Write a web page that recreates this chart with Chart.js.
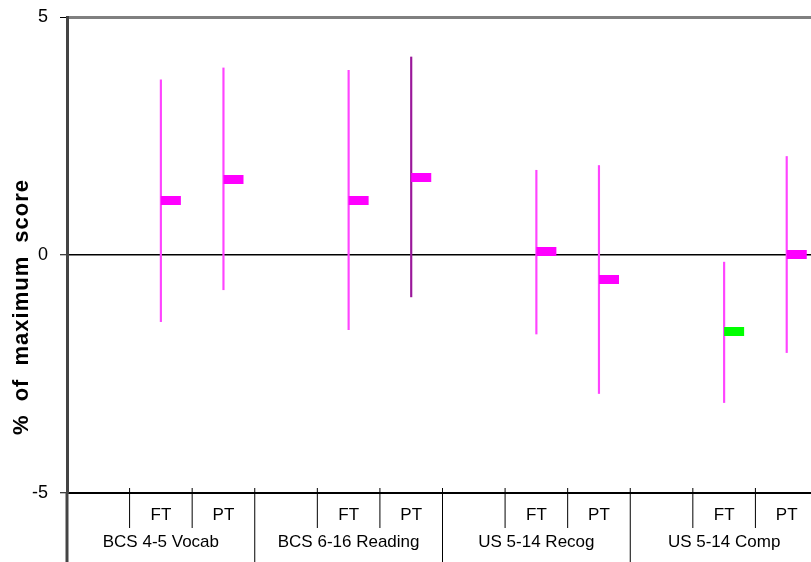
<!DOCTYPE html>
<html>
<head>
<meta charset="utf-8">
<script src="https://cdn.jsdelivr.net/npm/chart.js@4"></script>
<style>
    html, body { margin: 0; padding: 0; overflow: hidden; background: #fff; }
    #wrap { width: 830px; height: 562px; position: relative; }
</style>
</head>
<body>
<div id="wrap"><canvas id="chart"></canvas></div>
<script>
const categories = ['', 'FT', 'PT', '', 'FT', 'PT', '', 'FT', 'PT', '', 'FT', 'PT'];
const groups = ['BCS 4-5 Vocab', 'BCS 6-16 Reading', 'US 5-14 Recog', 'US 5-14 Comp'];
const means = [null, 1.14, 1.59, null, 1.15, 1.62, null, 0.07, -0.51, null, -1.61, 0.02];
const lows = [null, -1.40, -0.73, null, -1.57, -0.88, null, -1.66, -2.91, null, -3.10, -2.05];
const highs = [null, 3.68, 3.93, null, 3.88, 4.16, null, 1.78, 1.88, null, -0.15, 2.07];
const yTicks = [-5, 0, 5];

const ctx = document.querySelector('#chart').getContext('2d');
Chart.defaults.font.family = "'Liberation Sans', Arial, sans-serif";
Chart.defaults.color = '#000';

// marker image: rectangle starts at the point and runs to the right
function makeMarker(color) {
    const c = document.createElement('canvas');
    c.width = 42;
    c.height = 9;
    const g = c.getContext('2d');
    g.fillStyle = color;
    g.fillRect(21, 0, 20, 9);
    return c;
}
const magentaMarker = makeMarker('#ff00ff');
const greenMarker = makeMarker('#00ff00');

const ranges = lows.map((low, i) => low === null ? null : [low, highs[i]]);
const whiskerColors = categories.map((c, i) => i === 5 ? '#9a189a' : '#ff44ff');
const markerStyles = categories.map((c, i) => i === 10 ? greenMarker : magentaMarker);

const extras = {
    id: 'extras',
    afterDraw(chart) {
        const xs = chart.scales.x;
        const area = chart.chartArea;
        const g = chart.ctx;
        g.save();
        for (let i = 0; i <= categories.length; i++) {
            let x;
            if (i === 0) x = area.left;
            else if (i === categories.length) x = area.right;
            else x = (xs.getPixelForValue(i - 1) + xs.getPixelForValue(i)) / 2;
            const isGroup = i % 3 === 0;
            g.beginPath();
            g.strokeStyle = i === 0 ? '#444' : '#000';
            g.lineWidth = i === 0 ? 3 : 1;
            g.moveTo(x, i === 0 ? area.bottom : area.bottom - 5);
            g.lineTo(x, isGroup ? chart.height : area.bottom + 35);
            g.stroke();
        }
        g.fillStyle = '#000';
        g.font = "17px 'Liberation Sans', Arial, sans-serif";
        g.textAlign = 'center';
        g.textBaseline = 'alphabetic';
        groups.forEach((name, k) => {
            g.fillText(name, xs.getPixelForValue(k * 3 + 1), 547);
        });
        // y axis title
        g.translate(22, 307);
        g.rotate(-Math.PI / 2);
        g.font = "bold 22px 'Liberation Sans', Arial, sans-serif";
        g.letterSpacing = '1px';
        g.wordSpacing = '6px';
        g.textBaseline = 'middle';
        g.fillText('% of maximum score', 0, 0);
        g.restore();
    }
};

new Chart(ctx, {
    type: 'bar',
    data: {
        labels: categories,
        datasets: [{
            type: 'line',
            data: means,
            showLine: false,
            pointStyle: markerStyles,
            order: 0
        }, {
            type: 'bar',
            data: ranges,
            backgroundColor: whiskerColors,
            borderWidth: 0,
            barThickness: 1.5,
            order: 1
        }]
    },
    options: {
        responsive: true,
        maintainAspectRatio: false,
        animation: false,
        events: [],
        layout: { padding: { top: 17, right: 12, left: 0, bottom: 0 } },
        plugins: { legend: { display: false }, tooltip: { enabled: false } },
        scales: {
            x: {
                grid: { display: false, drawTicks: false },
                border: { color: '#000', width: 2 },
                ticks: { font: { size: 17 }, padding: 12, maxRotation: 0, autoSkip: false },
                afterFit: scale => { scale.height = 69; }
            },
            y: {
                min: -5,
                max: 5,
                afterBuildTicks: scale => { scale.ticks = yTicks.map(v => ({ value: v })); },
                ticks: { font: { size: 18, lineHeight: 0.5 }, padding: 12 },
                border: { color: '#444', width: 3 },
                grid: {
                    color: c => c.tick.value === 5 ? '#808080' : c.tick.value === 0 ? '#000' : 'rgba(0,0,0,0)',
                    lineWidth: c => c.tick.value === 5 ? 3 : 1.5,
                    tickColor: '#000',
                    tickWidth: 1,
                    tickLength: 7
                },
                afterFit: scale => { scale.width = 67; }
            }
        }
    },
    plugins: [extras]
});
</script>
</body>
</html>
